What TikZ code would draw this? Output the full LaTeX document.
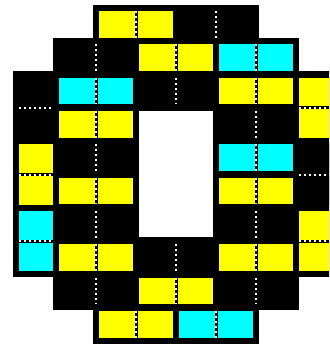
\documentclass[tikz,border=0pt]{standalone}
\definecolor{tileY}{RGB}{255,255,0}
\definecolor{tileC}{RGB}{0,255,255}
\definecolor{tileK}{RGB}{0,0,0}
\begin{document}
\begin{tikzpicture}[x=1pt,y=-1pt,
  sepline/.style={white,line width=2pt,dash pattern=on 2pt off 3pt}]
\useasboundingbox (0,0) rectangle (329,345);
\clip (0,0) rectangle (329,345);
\newcommand\hTile[3]{%
  \pgfmathsetmacro\tx{19+40*#1}\pgfmathsetmacro\ty{11+33.333*#2}%
  \fill[#3] (\tx,\ty) rectangle ++(35.5,26.7);
  \fill[#3] (\tx+38.5,\ty) rectangle ++(35.5,26.7);
  \draw[sepline] (\tx+37,\ty) -- ++(0,26.7);}
\newcommand\vTile[3]{%
  \pgfmathsetmacro\tx{19+40*#1}\pgfmathsetmacro\ty{11+33.333*#2}%
  \fill[#3] (\tx,\ty) rectangle ++(34,28.7);
  \fill[#3] (\tx,\ty+31.7) rectangle ++(34,28.6);
  \draw[sepline] (\tx,\ty+30.2) -- ++(34,0);}
% black ring background
\fill[tileK] (93,5) rectangle (259,44);
\fill[tileK] (53,38) rectangle (299,77);
\fill[tileK] (13,71) rectangle (339,277);
\fill[tileK] (53,271) rectangle (299,310);
\fill[tileK] (93,304) rectangle (259,344);
% central hole
\fill[white] (139,111) rectangle (213,237);
% tiles
\hTile{2}{0}{tileY}\hTile{4}{0}{tileK}
\hTile{1}{1}{tileK}\hTile{3}{1}{tileY}\hTile{5}{1}{tileC}
\vTile{0}{2}{tileK}\hTile{1}{2}{tileC}\hTile{3}{2}{tileK}\hTile{5}{2}{tileY}\vTile{7}{2}{tileY}
\hTile{1}{3}{tileY}\hTile{5}{3}{tileK}
\vTile{0}{4}{tileY}\hTile{1}{4}{tileK}\hTile{5}{4}{tileC}\vTile{7}{4}{tileK}
\hTile{1}{5}{tileY}\hTile{5}{5}{tileY}
\vTile{0}{6}{tileC}\hTile{1}{6}{tileK}\hTile{5}{6}{tileK}\vTile{7}{6}{tileY}
\hTile{1}{7}{tileY}\hTile{3}{7}{tileK}\hTile{5}{7}{tileY}
\hTile{1}{8}{tileK}\hTile{3}{8}{tileY}\hTile{5}{8}{tileK}
\hTile{2}{9}{tileY}\hTile{4}{9}{tileC}
\end{tikzpicture}
\end{document}
